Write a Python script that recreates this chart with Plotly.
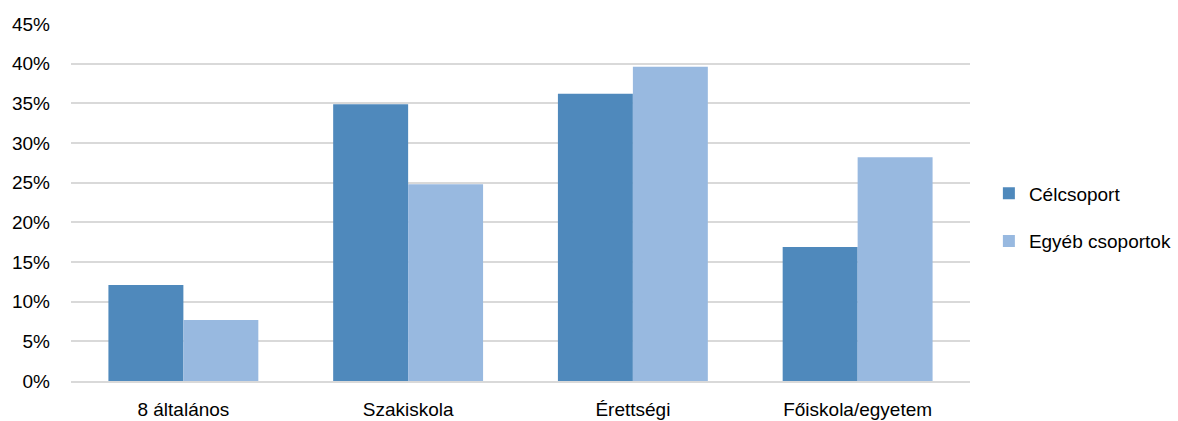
import plotly.graph_objects as go

categories = ["8 általános", "Szakiskola", "Érettségi", "Főiskola/egyetem"]
celcsoport = [0.121, 0.349, 0.362, 0.169]
egyeb = [0.077, 0.248, 0.396, 0.282]
y_ticks = [i * 0.05 for i in range(10)]
y_ticklabels = [f"{i * 5}%" for i in range(10)]

FONT = "Liberation Sans, Arial, sans-serif"

fig = go.Figure()
fig.add_trace(go.Bar(name="Célcsoport", x=categories, y=celcsoport,
                     marker=dict(color="#4F89BC", line=dict(width=0)),
                     legendgroup="a"))
fig.add_trace(go.Bar(name="Egyéb csoportok", x=categories, y=egyeb,
                     marker=dict(color="#98B9E0", line=dict(width=0)),
                     legendgroup="b"))

fig.update_layout(
    width=1178, height=421,
    margin=dict(l=71, r=208, t=24, b=40, autoexpand=False),
    paper_bgcolor="white", plot_bgcolor="white",
    font=dict(family=FONT, size=19, color="#000000"),
    barmode="group", bargap=0.333, bargroupgap=0,
    showlegend=True,
    legend=dict(x=1.021, y=0.458, xanchor="left", yanchor="middle",
                traceorder="grouped", tracegroupgap=20,
                font=dict(family=FONT, size=19, color="#000000"),
                itemwidth=30),
    xaxis=dict(showgrid=False, showline=True, linecolor="#D9D9D9", linewidth=2,
               ticks="", ticklabelstandoff=10, automargin=False),
    yaxis=dict(range=[0, 0.45], tickvals=y_ticks, ticktext=y_ticklabels,
               showgrid=True, gridcolor="#D9D9D9", gridwidth=2,
               zeroline=False, showline=False, ticks="",
               ticklabelstandoff=20, automargin=False),
)

fig.write_html("out.html")
